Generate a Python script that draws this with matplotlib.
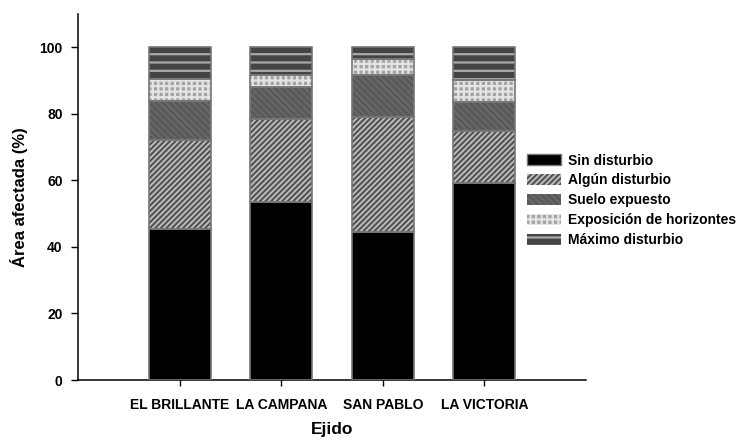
import matplotlib
matplotlib.use("Agg")
import matplotlib.pyplot as plt
from matplotlib.patches import Patch
import numpy as np

categories = ["EL BRILLANTE", "LA CAMPANA", "SAN PABLO", "LA VICTORIA"]
series_names = ["Sin disturbio", "Algún disturbio", "Suelo expuesto",
                "Exposición de horizontes", "Máximo disturbio"]
sin_disturbio = [45.4, 53.6, 44.4, 59.2]
algun_disturbio = [26.7, 24.9, 34.6, 15.6]
suelo_expuesto = [11.7, 9.6, 12.7, 8.7]
exposicion_horizontes = [6.8, 3.6, 4.7, 6.7]
maximo_disturbio = [9.4, 8.3, 3.6, 9.8]
yticks = [0, 20, 40, 60, 80, 100]

series = [sin_disturbio, algun_disturbio, suelo_expuesto,
          exposicion_horizontes, maximo_disturbio]
styles = [
    dict(fc="#000000", hatch=None, hc=None),
    dict(fc="#c4c4c4", hatch="//////", hc="#555555"),
    dict(fc="#666666", hatch="\\\\\\\\\\", hc="#585858"),
    dict(fc="#a4a4a4", hatch="+++", hc="#e4e4e4"),
    dict(fc="#444444", hatch="--", hc="#a8a8a8"),
]

plt.rcParams['font.family'] = ['Liberation Sans', 'DejaVu Sans']
plt.rcParams['font.weight'] = 'bold'
plt.rcParams['hatch.linewidth'] = 1.6

fig = plt.figure(figsize=(7.44, 4.4), dpi=100)
ax = fig.add_axes([78/744, 60/440, (586-78)/744, (380-14)/440])

x = np.arange(1, len(categories) + 1)
w = 0.61
bottom = np.zeros(len(categories))
for vals, st in zip(series, styles):
    vals = np.array(vals)
    ax.bar(x, vals, w, bottom=bottom, color=st["fc"], lw=0, zorder=2)
    if st["hatch"]:
        ax.bar(x, vals, w, bottom=bottom, facecolor="none", edgecolor=st["hc"],
               hatch=st["hatch"], lw=0, zorder=3)
    ax.bar(x, vals, w, bottom=bottom, facecolor="none", edgecolor="#777777",
           lw=1.2, zorder=4)
    bottom += vals

ax.set_xlim(0, 5)
ax.set_ylim(0, 110)
ax.set_xticks(x)
ax.set_xticklabels(categories, fontsize=10, fontweight='bold')
ax.set_yticks(yticks)
ax.set_yticklabels([str(v) for v in yticks], fontsize=10, fontweight='bold')
ax.tick_params(axis='y', direction='out', length=5, width=1, pad=6)
ax.tick_params(axis='x', direction='out', length=4, width=1, pad=9)
for s in ["top", "right"]:
    ax.spines[s].set_visible(False)
for s in ["left", "bottom"]:
    ax.spines[s].set_linewidth(1.1)

ax.set_ylabel("Área afectada (%)", fontsize=12, fontweight='bold', labelpad=8)
ax.set_xlabel("Ejido", fontsize=12.5, fontweight='bold', labelpad=7)

handles = []
for st in styles:
    if st["hatch"]:
        handles.append(Patch(facecolor=st["fc"], edgecolor=st["hc"], hatch=st["hatch"], lw=0))
    else:
        handles.append(Patch(facecolor=st["fc"], edgecolor="#777777", lw=1))
leg = fig.legend(handles, series_names, loc="upper left",
                 bbox_to_anchor=(521/744, 1 - 148/440), frameon=False,
                 prop=dict(size=10, weight='bold'), handlelength=2.5,
                 handleheight=0.85, labelspacing=0.42, handletextpad=0.5,
                 borderaxespad=0)

fig.savefig("out.png", dpi=100)
